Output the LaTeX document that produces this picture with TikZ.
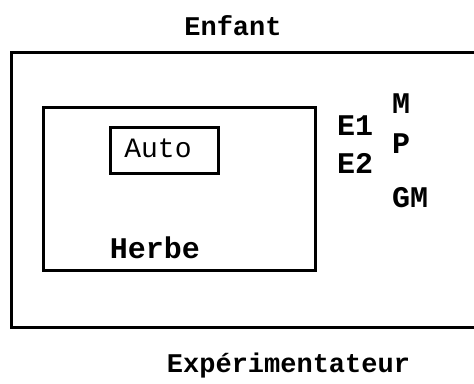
\documentclass[tikz,border=0pt]{standalone}
\usepackage{fontspec}
\newfontfamily\bmfont{Liberation Mono}
\begin{document}
\begin{tikzpicture}[x=1pt,y=-1pt,
  box/.style={draw,line width=3pt},
  lbl/.style={font=\bmfont\bfseries\fontsize{27}{27}\selectfont,inner sep=0pt,anchor=base},
  big/.style={font=\bmfont\bfseries\fontsize{30}{30}\selectfont},
  lblw/.style={lbl,big,anchor=base west}]
\useasboundingbox (0,0) rectangle (474,383);
\draw[line width=3pt] (474,52) -- (11.5,52) -- (11.5,327) -- (474,327);
\node[box,minimum width=108pt,minimum height=46pt,inner sep=0pt] (auto) at (164,150) {};
\node[lbl,font=\bmfont\fontsize{28}{28}\selectfont] (autot) at (158,157) {Auto};
\draw[box] (43,107.5) rectangle (315,270);
\node[lbl] (enfant) at (233,35) {Enfant};
\node[lbl] (exp) at (288.5,372) {Expérimentateur};
\node[lbl,big] (herbe) at (155,258) {Herbe};
\node[lblw] (e1) at (337,135) {E1};
\node[lblw] (e2) at (337,173) {E2};
\node[lblw] (m) at (392,113) {M};
\node[lblw] (p) at (392,153) {P};
\node[lblw] (gm) at (392,207) {GM};
\end{tikzpicture}
\end{document}
